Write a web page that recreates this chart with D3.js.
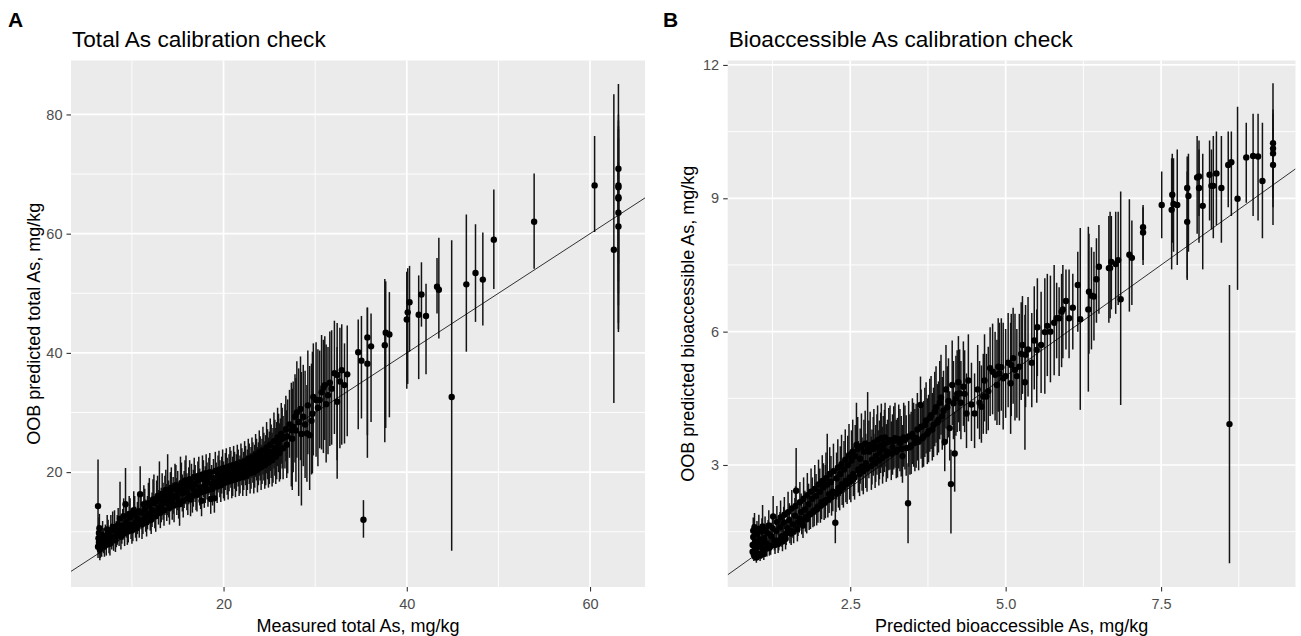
<!DOCTYPE html>
<html>
<head>
<meta charset="utf-8">
<script src="https://cdn.jsdelivr.net/npm/d3@7"></script>
<style>
  body { margin: 0; background: #fff; }
  svg { font-family: "Liberation Sans", Arial, sans-serif; display: block; }
  .tick text { fill: #4d4d4d; font-size: 14.5px; }
  .tick line { stroke: #333; stroke-width: 1.1; }
  .domain { display: none; }
</style>
</head>
<body>
<svg id="drawing_region"></svg>
<script>
// rows: [measured (x), OOB predicted (y), lower, upper]
const totalAsRows = [
  [6.3, 14.3, 7.5, 22.1], [6.3, 7.5, 5.6, 9.6], [6.35, 8.9, 6.8, 11.2], [6.4, 9.8, 7.6, 12.4],
  [6.4, 8.2, 6.2, 10.4], [6.45, 10.6, 8.2, 13.0], [6.5, 7.0, 5.2, 8.8], [6.55, 7.4, 5.6, 9.4],
  [6.6, 8.8, 6.8, 11.0], [6.7, 7.8, 5.8, 9.8], [6.8, 9.4, 7.2, 11.8], [6.9, 8.5, 6.4, 10.6],
  [7.0, 7.6, 5.8, 9.6], [7.1, 9.0, 7.0, 11.2], [7.2, 7.9, 6.0, 10.0], [7.3, 10.4, 8.0, 12.8],
  [7.4, 9.6, 7.4, 12.0], [7.5, 8.4, 6.4, 10.6], [7.6, 8.0, 6.0, 10.2], [7.7, 10.2, 7.8, 12.8],
  [7.8, 9.1, 7.0, 11.4], [7.9, 10.8, 8.4, 13.4], [8.0, 8.8, 6.8, 11.0], [8.1, 10.6, 8.2, 13.6],
  [8.2, 8.6, 6.6, 10.8], [8.3, 9.5, 7.4, 11.8], [8.4, 10.2, 7.8, 12.8], [8.5, 11.2, 8.8, 14.0],
  [8.6, 9.9, 7.6, 12.4], [8.7, 12.2, 9.0, 18.4], [8.8, 9.2, 7.0, 11.6], [8.9, 10.4, 8.0, 13.0],
  [9.0, 11.0, 8.6, 13.8], [9.1, 12.6, 9.8, 15.6], [9.2, 9.8, 7.6, 12.2], [9.3, 14.6, 9.5, 20.7],
  [9.4, 11.6, 9.0, 14.4], [9.5, 10.0, 7.8, 12.4], [9.6, 10.6, 8.2, 13.2], [9.7, 13.0, 10.2, 16.0],
  [9.8, 12.4, 9.6, 15.6], [9.9, 11.2, 8.8, 13.8], [10.0, 10.2, 8.0, 12.6], [10.1, 10.8, 8.4, 13.4],
  [10.2, 13.6, 10.6, 16.8], [10.3, 12.8, 10.0, 16.0], [10.4, 11.6, 9.0, 14.2], [10.5, 10.6, 8.4, 13.0],
  [10.6, 12.2, 9.6, 15.0], [10.7, 13.4, 10.6, 16.6], [10.8, 11.4, 9.0, 14.0], [10.9, 16.3, 12.4, 21.0],
  [11.0, 13.2, 10.4, 16.2], [11.1, 11.2, 8.8, 13.8], [11.2, 12.0, 9.6, 14.8], [11.3, 14.6, 11.6, 17.8],
  [11.4, 13.8, 11.0, 17.2], [11.5, 12.6, 10.0, 15.4], [11.6, 11.6, 9.2, 14.2], [11.7, 13.0, 10.4, 16.0],
  [11.8, 14.8, 11.8, 18.2], [11.9, 14.4, 11.4, 19.0], [12.0, 12.8, 10.2, 15.6], [12.1, 12.0, 9.6, 14.6],
  [12.2, 13.6, 10.8, 16.6], [12.3, 15.4, 12.4, 18.8], [12.4, 14.8, 11.8, 19.6], [12.5, 13.2, 10.6, 16.0],
  [12.6, 12.6, 10.0, 15.2], [12.7, 15.2, 12.2, 18.6], [12.8, 16.0, 12.8, 19.4], [12.9, 14.0, 11.2, 17.0],
  [13.0, 15.8, 12.6, 21.8], [13.1, 13.2, 10.6, 16.0], [13.2, 14.4, 11.6, 17.4], [13.3, 16.4, 13.2, 19.8],
  [13.4, 15.0, 12.0, 18.2], [13.5, 13.6, 11.0, 16.4], [13.6, 16.0, 12.8, 19.4], [13.7, 17.0, 13.8, 20.4],
  [13.8, 14.8, 11.8, 18.0], [13.9, 16.2, 12.8, 23.0], [14.0, 15.4, 12.4, 18.6], [14.1, 14.0, 11.2, 17.0],
  [14.2, 16.6, 13.4, 20.0], [14.3, 17.4, 14.2, 20.8], [14.4, 15.0, 12.0, 18.2], [14.5, 16.0, 13.0, 19.2],
  [14.6, 14.4, 11.6, 17.4], [14.7, 17.2, 14.0, 21.4], [14.8, 17.8, 14.6, 21.2], [14.9, 15.8, 12.8, 19.0],
  [15.0, 16.8, 13.6, 20.2], [15.1, 15.0, 12.2, 18.0], [15.2, 14.6, 11.0, 18.2], [15.3, 17.4, 14.2, 22.6],
  [15.4, 18.2, 15.0, 21.6], [15.5, 16.4, 13.4, 19.6], [15.6, 15.2, 12.4, 18.2], [15.7, 17.0, 14.0, 20.2],
  [15.8, 18.6, 15.4, 22.0], [15.9, 18.0, 14.6, 22.8], [16.0, 16.6, 13.6, 19.8], [16.1, 15.6, 12.8, 18.6],
  [16.2, 17.6, 14.6, 20.8], [16.3, 18.8, 15.6, 22.0], [16.4, 15.4, 12.6, 18.6], [16.5, 18.2, 15.2, 21.4],
  [16.6, 16.0, 13.2, 19.0], [16.7, 17.2, 14.2, 20.4], [16.8, 19.2, 16.0, 22.4], [16.9, 18.0, 15.0, 21.2],
  [17.0, 16.6, 13.6, 19.8], [17.1, 16.2, 13.4, 19.2], [17.2, 18.6, 15.6, 21.8], [17.3, 19.4, 16.4, 22.6],
  [17.4, 17.4, 14.4, 20.6], [17.5, 16.6, 13.8, 19.6], [17.6, 15.2, 12.6, 18.0], [17.7, 19.6, 16.6, 22.8],
  [17.8, 18.8, 15.8, 22.0], [17.9, 16.8, 14.0, 19.8], [18.0, 17.8, 14.8, 21.0], [18.1, 19.8, 16.8, 23.0],
  [18.2, 18.4, 15.4, 21.6], [18.3, 17.0, 14.2, 20.0], [18.4, 19.2, 16.2, 22.4], [18.5, 20.0, 17.0, 23.2],
  [18.6, 15.5, 13.0, 18.2], [18.7, 18.0, 15.0, 21.2], [18.8, 17.2, 14.4, 20.2], [18.9, 19.0, 16.0, 22.2],
  [19.0, 15.6, 13.2, 18.2], [19.1, 20.2, 17.2, 23.4], [19.2, 18.4, 15.4, 21.6], [19.3, 17.6, 14.8, 20.6],
  [19.4, 19.6, 16.6, 22.8], [19.5, 20.4, 17.4, 23.6], [19.6, 18.8, 15.8, 22.0], [19.7, 17.8, 15.0, 20.8],
  [19.8, 19.4, 16.4, 22.6], [19.9, 20.6, 17.6, 23.8], [20.0, 18.6, 15.6, 21.8], [20.1, 18.2, 15.2, 21.2],
  [20.2, 20.0, 17.0, 23.2], [20.3, 20.8, 17.8, 24.0], [20.4, 19.2, 16.2, 22.4], [20.5, 18.4, 15.4, 21.4],
  [20.6, 19.8, 16.8, 23.0], [20.7, 21.0, 18.0, 24.2], [20.8, 20.4, 17.4, 23.6], [20.9, 18.6, 15.6, 21.6],
  [21.0, 19.4, 16.0, 22.6], [21.1, 21.2, 18.2, 24.4], [21.2, 20.2, 17.2, 23.4], [21.3, 18.8, 15.8, 21.8],
  [21.4, 19.8, 16.8, 23.0], [21.5, 21.4, 18.4, 24.6], [21.6, 20.6, 17.6, 23.8], [21.7, 19.0, 16.0, 22.2],
  [21.8, 19.6, 16.4, 22.8], [21.9, 21.6, 18.6, 24.8], [22.0, 20.8, 17.8, 24.0], [22.1, 19.2, 16.0, 22.4],
  [22.2, 20.2, 17.0, 23.4], [22.3, 21.8, 18.6, 25.2], [22.4, 21.0, 17.8, 24.4], [22.5, 19.4, 16.0, 22.8],
  [22.6, 20.4, 17.0, 23.8], [22.7, 22.2, 18.8, 25.6], [22.8, 21.4, 18.0, 24.8], [22.9, 19.8, 16.4, 23.2],
  [23.0, 20.8, 17.2, 24.2], [23.1, 22.4, 19.0, 25.8], [23.2, 21.6, 18.2, 25.0], [23.3, 20.0, 16.4, 23.6],
  [23.4, 21.0, 17.4, 24.6], [23.5, 22.8, 19.2, 26.4], [23.6, 22.0, 18.6, 25.6], [23.7, 20.4, 16.6, 24.2],
  [23.8, 21.4, 17.8, 25.0], [23.9, 23.2, 19.4, 27.0], [24.0, 22.2, 18.6, 26.0], [24.1, 20.8, 17.0, 24.6],
  [24.2, 21.8, 18.0, 25.6], [24.3, 23.6, 19.6, 27.6], [24.4, 22.6, 18.6, 26.6], [24.5, 21.2, 17.2, 25.2],
  [24.6, 22.0, 17.8, 26.2], [24.7, 24.0, 19.8, 28.4], [24.8, 23.0, 18.8, 27.2], [24.9, 21.6, 17.4, 25.8],
  [25.0, 22.4, 18.0, 26.8], [25.1, 24.6, 20.2, 29.0], [25.2, 23.4, 19.0, 28.0], [25.3, 22.0, 17.6, 26.6],
  [25.4, 22.8, 18.2, 27.4], [25.5, 25.2, 20.6, 30.0], [25.6, 24.0, 19.4, 28.8], [25.7, 22.6, 18.0, 27.4],
  [25.8, 23.6, 18.8, 28.4], [25.9, 25.8, 21.0, 30.8], [26.0, 24.8, 20.0, 29.8], [26.1, 23.2, 18.4, 28.2],
  [26.2, 23.8, 18.8, 29.0], [26.3, 26.4, 21.4, 31.6], [26.4, 25.6, 20.6, 30.8], [26.5, 24.0, 18.8, 29.4],
  [26.7, 25.9, 20.6, 31.4], [26.8, 27.2, 21.8, 32.8], [26.9, 24.6, 19.0, 30.4], [27.0, 26.0, 19.8, 32.2],
  [27.2, 28.0, 22.4, 33.8], [27.4, 27.0, 17.6, 35.0], [27.5, 25.6, 17.0, 34.0], [27.6, 27.6, 20.0, 35.2],
  [27.8, 29.3, 21.6, 36.4], [27.9, 27.0, 18.4, 35.8], [28.0, 30.0, 22.4, 38.6], [28.2, 28.4, 16.0, 37.4],
  [28.4, 30.6, 22.0, 39.4], [28.5, 26.4, 14.4, 36.8], [28.7, 29.3, 21.0, 38.0], [28.9, 28.0, 19.0, 37.0],
  [29.1, 26.5, 18.4, 34.6], [29.2, 31.2, 23.0, 40.4], [29.4, 26.2, 17.0, 37.8], [29.6, 28.6, 19.6, 38.2],
  [29.7, 29.8, 19.8, 40.2], [29.8, 32.6, 22.8, 41.6], [30.1, 32.1, 22.6, 41.8], [30.3, 30.8, 21.0, 40.6],
  [30.5, 32.1, 24.0, 40.4], [30.7, 33.4, 23.8, 43.0], [30.9, 34.2, 23.2, 42.2], [31.05, 34.6, 25.4, 42.8],
  [31.2, 31.4, 21.6, 41.4], [31.4, 32.9, 23.0, 41.0], [31.6, 35.0, 24.4, 43.6], [31.8, 34.0, 24.6, 43.8],
  [32.1, 36.6, 26.4, 45.4], [32.4, 36.3, 18.9, 45.0], [32.4, 31.8, 22.0, 41.0], [32.7, 35.2, 24.0, 44.2],
  [32.9, 37.1, 24.6, 44.8], [33.2, 34.6, 24.8, 41.6], [33.5, 36.4, 26.0, 44.6], [34.7, 40.1, 27.2, 45.6],
  [35.05, 38.7, 29.0, 46.2], [35.27, 12.0, 9.0, 15.3], [35.7, 42.6, 26.2, 47.6], [35.7, 38.2, 22.4, 47.6],
  [36.1, 41.1, 28.4, 46.6], [37.6, 41.3, 25.0, 52.4], [37.7, 43.4, 27.4, 52.0], [38.1, 43.1, 29.2, 50.2],
  [40.0, 45.6, 34.0, 53.6], [40.1, 46.8, 34.8, 54.2], [40.3, 48.5, 40.2, 54.6], [41.3, 46.4, 35.6, 53.0],
  [41.6, 49.8, 44.4, 55.2], [42.1, 46.2, 36.4, 51.6], [43.3, 51.1, 46.6, 55.9], [43.5, 50.6, 42.4, 59.3],
  [44.9, 32.6, 6.8, 58.9], [46.5, 51.5, 40.2, 63.2], [47.5, 53.4, 45.2, 61.6], [48.3, 52.3, 44.6, 60.2],
  [49.5, 59.0, 50.7, 67.4], [53.9, 62.0, 54.1, 70.1], [60.5, 68.1, 60.3, 76.4], [62.6, 57.3, 31.6, 83.4],
  [63.1, 70.9, 43.5, 85.1], [63.1, 68.1, 55.0, 80.0], [63.1, 67.8, 52.0, 79.0], [63.1, 66.1, 48.0, 78.0],
  [63.1, 65.9, 50.0, 77.5], [63.1, 63.5, 45.0, 76.0], [63.1, 61.2, 44.0, 72.0]
];

// rows: [predicted bioaccessible (x), OOB predicted (y), lower, upper]
const bioAsRows = [
  [0.93, 1.05, 0.88, 1.26], [0.93, 1.20, 0.98, 1.44], [0.94, 1.38, 1.12, 1.66], [0.94, 1.52, 1.26, 1.82],
  [0.95, 0.98, 0.84, 1.16], [0.96, 1.60, 1.32, 1.92], [0.97, 1.28, 1.06, 1.54], [0.98, 1.12, 0.94, 1.34],
  [0.99, 0.92, 0.80, 1.10], [1.00, 1.44, 1.18, 1.74], [1.01, 1.22, 1.00, 1.48], [1.02, 1.00, 0.86, 1.20],
  [1.03, 1.56, 1.28, 1.88], [1.04, 1.32, 1.08, 1.60], [1.05, 0.96, 0.84, 1.14], [1.06, 1.18, 0.98, 1.42],
  [1.07, 1.26, 1.04, 1.52], [1.08, 1.50, 1.24, 1.80], [1.09, 1.62, 1.34, 2.10], [1.10, 1.08, 0.92, 1.30],
  [1.11, 1.00, 0.86, 1.20], [1.12, 1.36, 1.12, 1.64], [1.13, 1.54, 1.28, 1.84], [1.15, 1.24, 1.02, 1.50],
  [1.16, 1.12, 0.94, 1.36], [1.18, 1.46, 1.20, 1.76], [1.19, 1.64, 1.36, 1.98], [1.20, 1.14, 0.96, 1.38],
  [1.22, 1.18, 0.98, 1.42], [1.23, 1.40, 1.16, 1.70], [1.25, 1.58, 1.30, 1.90], [1.26, 1.84, 1.50, 2.30],
  [1.28, 1.30, 1.08, 1.58], [1.29, 1.20, 1.00, 1.46], [1.31, 1.52, 1.26, 1.84], [1.32, 1.72, 1.42, 2.08],
  [1.34, 1.22, 1.02, 1.48], [1.35, 1.30, 1.08, 1.58], [1.37, 1.60, 1.32, 1.94], [1.38, 1.82, 1.50, 2.20],
  [1.40, 1.40, 1.16, 1.70], [1.41, 1.28, 1.06, 1.56], [1.43, 1.70, 1.40, 2.06], [1.44, 1.88, 1.56, 2.28],
  [1.46, 1.34, 1.10, 1.62], [1.47, 1.46, 1.20, 1.78], [1.49, 1.58, 1.30, 1.92], [1.50, 1.94, 1.60, 2.40],
  [1.52, 1.76, 1.46, 2.14], [1.53, 1.52, 1.24, 1.84], [1.55, 1.46, 1.20, 1.78], [1.56, 2.02, 1.66, 2.44],
  [1.58, 1.66, 1.36, 2.02], [1.59, 1.50, 1.24, 1.82], [1.61, 1.86, 1.54, 2.26], [1.62, 2.08, 1.72, 2.52],
  [1.63, 2.42, 1.90, 3.38], [1.65, 1.56, 1.28, 1.90], [1.66, 1.70, 1.40, 2.06], [1.68, 1.80, 1.48, 2.18],
  [1.69, 2.16, 1.78, 2.62], [1.71, 1.94, 1.60, 2.36], [1.72, 1.74, 1.44, 2.10], [1.74, 1.64, 1.36, 2.00],
  [1.75, 2.24, 1.84, 2.72], [1.77, 2.00, 1.64, 2.42], [1.78, 1.82, 1.50, 2.20], [1.80, 1.78, 1.46, 2.16],
  [1.81, 2.32, 1.90, 2.82], [1.83, 2.12, 1.74, 2.58], [1.84, 1.88, 1.54, 2.28], [1.86, 1.90, 1.56, 2.30],
  [1.87, 2.40, 1.96, 2.92], [1.89, 2.24, 1.84, 2.72], [1.90, 1.94, 1.60, 2.36], [1.92, 1.98, 1.62, 2.40],
  [1.93, 2.46, 2.02, 3.00], [1.95, 2.30, 1.88, 2.80], [1.96, 2.00, 1.64, 2.42], [1.98, 2.06, 1.70, 2.50],
  [1.99, 2.56, 2.10, 3.12], [2.01, 2.40, 1.96, 2.92], [2.02, 2.08, 1.70, 2.52], [2.04, 2.16, 1.78, 2.62],
  [2.05, 2.64, 2.16, 3.22], [2.07, 2.50, 2.04, 3.04], [2.08, 2.14, 1.76, 2.60], [2.10, 2.20, 1.80, 3.00],
  [2.11, 2.70, 2.22, 3.28], [2.13, 2.56, 2.10, 3.70], [2.14, 2.22, 1.82, 2.70], [2.16, 2.34, 1.92, 2.84],
  [2.17, 2.80, 2.30, 3.40], [2.19, 2.62, 2.14, 3.20], [2.20, 2.28, 1.86, 2.78], [2.22, 2.40, 1.96, 2.92],
  [2.23, 2.86, 2.34, 3.48], [2.26, 1.70, 1.24, 2.36], [2.27, 2.36, 1.94, 2.86], [2.28, 2.70, 2.22, 3.28],
  [2.30, 2.94, 2.40, 3.58], [2.31, 2.48, 2.04, 3.02], [2.33, 2.42, 1.98, 2.94], [2.34, 2.80, 2.30, 3.42],
  [2.36, 3.02, 2.48, 3.68], [2.37, 2.56, 2.10, 3.12], [2.39, 2.50, 2.04, 3.04], [2.40, 2.90, 2.38, 3.54],
  [2.42, 3.12, 2.56, 3.80], [2.43, 2.64, 2.16, 3.22], [2.45, 2.58, 2.12, 3.14], [2.46, 3.00, 2.46, 3.66],
  [2.48, 3.22, 2.64, 3.92], [2.49, 2.72, 2.22, 3.32], [2.51, 2.64, 2.16, 3.22], [2.52, 3.10, 2.54, 3.78],
  [2.54, 3.30, 2.70, 4.02], [2.55, 2.80, 2.30, 3.42], [2.57, 2.72, 2.22, 3.32], [2.58, 3.20, 2.62, 3.90],
  [2.60, 3.45, 2.82, 4.40], [2.62, 3.36, 2.76, 4.08], [2.63, 2.90, 2.38, 3.54], [2.65, 2.80, 2.30, 3.42],
  [2.66, 3.14, 2.58, 3.82], [2.68, 3.42, 2.80, 4.16], [2.69, 2.96, 2.42, 3.62], [2.71, 2.86, 2.34, 3.50],
  [2.72, 3.30, 2.70, 4.02], [2.74, 3.48, 2.84, 4.22], [2.75, 3.04, 2.48, 3.70], [2.77, 2.92, 2.40, 3.56],
  [2.78, 3.40, 2.78, 4.64], [2.80, 3.30, 2.70, 4.00], [2.82, 3.45, 2.82, 4.20], [2.84, 2.98, 2.44, 3.64],
  [2.85, 3.12, 2.56, 3.80], [2.87, 3.36, 2.76, 4.08], [2.88, 3.50, 2.86, 4.26], [2.90, 3.04, 2.48, 3.70],
  [2.91, 3.20, 2.62, 3.90], [2.93, 3.40, 2.78, 4.14], [2.94, 3.56, 2.92, 4.34], [2.96, 3.10, 2.54, 3.78],
  [2.97, 3.28, 2.68, 4.00], [2.99, 3.44, 2.82, 4.18], [3.00, 3.60, 2.94, 4.38], [3.02, 3.16, 2.58, 3.86],
  [3.03, 3.36, 2.74, 4.10], [3.05, 3.48, 2.84, 4.24], [3.06, 3.62, 2.96, 4.40], [3.08, 3.22, 2.62, 3.92],
  [3.10, 3.30, 2.70, 4.02], [3.12, 3.52, 2.88, 4.28], [3.14, 3.56, 2.90, 4.34], [3.16, 3.26, 2.66, 3.98],
  [3.18, 3.40, 2.78, 4.14], [3.20, 3.54, 2.90, 4.32], [3.22, 3.60, 2.94, 4.40], [3.24, 3.30, 2.70, 4.02],
  [3.26, 3.34, 2.72, 4.06], [3.28, 3.58, 2.92, 4.36], [3.30, 3.50, 2.86, 4.26], [3.32, 3.36, 2.74, 4.10],
  [3.34, 3.20, 2.60, 3.90], [3.36, 3.62, 2.96, 4.40], [3.38, 3.56, 2.90, 4.34], [3.40, 3.38, 2.76, 4.12],
  [3.43, 2.14, 1.24, 3.04], [3.44, 3.64, 2.96, 4.44], [3.46, 3.40, 2.78, 4.14], [3.48, 3.44, 2.80, 4.20],
  [3.50, 3.70, 3.02, 4.50], [3.52, 3.62, 2.96, 4.40], [3.54, 3.50, 2.86, 4.26], [3.56, 3.60, 2.94, 4.38],
  [3.58, 3.80, 3.10, 4.62], [3.60, 3.52, 2.88, 4.28], [3.63, 4.35, 3.56, 4.99], [3.64, 3.86, 3.14, 4.70],
  [3.66, 3.60, 2.94, 4.38], [3.68, 3.64, 2.96, 4.44], [3.70, 3.90, 3.18, 4.74], [3.72, 4.00, 3.26, 4.86],
  [3.74, 3.70, 3.02, 4.50], [3.76, 3.76, 3.06, 4.58], [3.78, 4.06, 3.30, 4.94], [3.80, 4.12, 3.36, 5.00],
  [3.82, 3.80, 3.10, 4.62], [3.84, 3.90, 3.18, 4.74], [3.86, 4.20, 3.42, 5.10], [3.88, 4.30, 3.50, 5.22],
  [3.90, 3.96, 3.22, 4.82], [3.92, 4.02, 3.28, 4.88], [3.94, 4.40, 3.58, 5.34], [3.96, 4.52, 3.68, 5.48],
  [3.98, 4.10, 3.34, 4.98], [4.00, 4.22, 3.44, 5.12], [4.02, 3.52, 2.86, 4.30], [4.04, 4.70, 3.82, 5.70],
  [4.06, 4.30, 3.50, 5.22], [4.08, 4.44, 3.62, 5.40], [4.10, 3.83, 3.10, 4.66], [4.12, 2.57, 1.46, 3.34],
  [4.14, 4.80, 3.90, 5.80], [4.16, 4.39, 3.58, 5.34], [4.18, 3.26, 2.40, 4.20], [4.20, 4.50, 3.66, 5.46],
  [4.22, 4.60, 3.74, 5.58], [4.24, 4.86, 3.96, 5.90], [4.26, 4.61, 3.76, 5.60], [4.28, 4.40, 3.58, 5.34],
  [4.32, 4.76, 3.88, 5.78], [4.34, 4.60, 3.74, 5.58], [4.37, 4.16, 3.38, 5.06], [4.40, 4.90, 3.98, 5.94],
  [4.45, 4.36, 3.54, 5.30], [4.50, 4.16, 3.38, 5.06], [4.55, 4.70, 3.82, 5.70], [4.58, 4.40, 3.58, 5.34],
  [4.61, 4.31, 3.50, 5.24], [4.64, 4.54, 3.70, 5.50], [4.66, 4.90, 3.98, 5.94], [4.69, 4.54, 3.70, 5.50],
  [4.72, 4.66, 3.78, 5.66], [4.75, 5.18, 4.10, 6.10], [4.79, 5.10, 4.14, 6.18], [4.83, 5.03, 4.00, 6.00],
  [4.86, 4.80, 3.90, 5.82], [4.88, 5.21, 4.20, 6.30], [4.90, 5.06, 3.90, 6.20], [4.93, 5.20, 4.22, 6.30],
  [4.96, 4.95, 3.80, 6.20], [5.00, 5.00, 4.06, 6.06], [5.04, 5.30, 4.30, 6.42], [5.08, 4.84, 3.70, 6.20],
  [5.09, 5.25, 4.10, 6.40], [5.12, 5.40, 4.38, 6.54], [5.15, 5.14, 4.00, 6.40], [5.18, 5.00, 4.06, 6.06],
  [5.22, 5.21, 4.00, 6.40], [5.25, 5.50, 4.46, 6.66], [5.27, 5.70, 4.60, 6.80], [5.31, 4.86, 3.34, 6.38],
  [5.32, 5.48, 4.30, 6.60], [5.36, 5.60, 4.54, 6.78], [5.42, 5.30, 4.30, 6.42], [5.46, 5.80, 4.70, 7.02],
  [5.50, 5.59, 4.40, 6.50], [5.51, 6.10, 5.00, 7.20], [5.57, 5.70, 4.62, 6.90], [5.63, 5.99, 4.60, 7.20],
  [5.67, 6.13, 5.00, 7.30], [5.72, 6.00, 4.86, 7.26], [5.78, 6.20, 5.02, 7.50], [5.82, 6.30, 5.40, 7.10],
  [5.86, 6.30, 5.00, 7.00], [5.90, 6.45, 5.20, 7.30], [5.92, 6.50, 5.40, 7.50], [5.97, 6.69, 5.60, 7.40],
  [6.02, 6.30, 5.40, 7.40], [6.08, 6.54, 5.60, 7.30], [6.16, 7.05, 6.00, 7.80], [6.20, 6.28, 4.24, 8.33],
  [6.33, 6.50, 4.65, 8.36], [6.34, 6.90, 5.50, 8.20], [6.38, 6.81, 5.60, 7.90], [6.42, 6.79, 5.80, 7.80],
  [6.46, 7.18, 6.20, 8.10], [6.50, 7.46, 6.40, 8.40], [6.66, 7.43, 6.20, 8.60], [6.68, 7.43, 6.30, 8.70],
  [6.70, 7.57, 6.50, 8.60], [6.77, 7.52, 6.40, 8.70], [6.81, 7.61, 6.60, 8.70], [6.85, 6.73, 4.35, 9.15],
  [6.99, 7.73, 6.45, 8.98], [7.03, 7.66, 6.60, 8.50], [7.21, 8.35, 7.61, 8.85], [7.21, 8.23, 7.50, 8.80],
  [7.51, 8.85, 8.10, 9.60], [7.67, 8.74, 7.40, 9.90], [7.68, 9.08, 8.00, 10.00], [7.70, 8.87, 7.80, 9.90],
  [7.76, 8.85, 7.50, 10.10], [7.92, 9.23, 7.16, 9.94], [7.94, 9.05, 7.80, 10.00], [7.92, 8.47, 7.20, 9.60],
  [8.08, 9.47, 8.20, 10.40], [8.11, 9.49, 8.60, 10.10], [8.11, 9.23, 8.00, 10.30], [8.17, 8.83, 7.40, 10.00],
  [8.28, 9.53, 8.50, 10.30], [8.31, 9.28, 8.30, 10.10], [8.34, 9.28, 8.10, 10.40], [8.39, 9.56, 8.40, 10.50],
  [8.47, 9.23, 8.00, 10.40], [8.58, 9.75, 8.80, 10.50], [8.63, 9.81, 8.60, 10.50], [8.60, 3.92, 0.79, 7.05],
  [8.73, 8.99, 6.94, 11.06], [8.87, 9.92, 8.90, 10.70], [8.98, 9.95, 8.60, 10.90], [9.06, 9.94, 8.50, 10.90],
  [9.13, 9.39, 8.10, 10.70], [9.30, 10.24, 8.40, 11.59], [9.30, 10.12, 9.00, 11.00], [9.30, 10.01, 9.20, 10.90],
  [9.30, 9.75, 8.80, 10.60]
];

const totalTicksX = [20, 40, 60];
const totalMinorX = [10, 30, 50];
const totalTicksY = [20, 40, 60, 80];
const totalMinorY = [10, 30, 50, 70];
const bioTicksX = [2.5, 5.0, 7.5];
const bioMinorX = [1.25, 3.75, 6.25, 8.75];
const bioTicksY = [3, 6, 9, 12];
const bioMinorY = [1.5, 4.5, 7.5, 10.5];

const svg = d3.select('#drawing_region')
    .attr('width', 1301)
    .attr('height', 636);

function drawPanel(p) {
    var xScale = d3.scaleLinear().domain(p.xDomain).range([p.left, p.right]);
    var yScale = d3.scaleLinear().domain(p.yDomain).range([p.bottom, p.top]);

    svg.append('clipPath').attr('id', 'clip-' + p.tag)
        .append('rect')
        .attr('x', p.left).attr('y', p.top)
        .attr('width', p.right - p.left).attr('height', p.bottom - p.top);

    var g = svg.append('g');

    g.append('rect')
        .attr('x', p.left).attr('y', p.top)
        .attr('width', p.right - p.left).attr('height', p.bottom - p.top)
        .attr('fill', '#ebebeb');

    // grid: minor first, then major
    g.selectAll('.minx').data(p.minorX).enter().append('line')
        .attr('x1', d => xScale(d)).attr('x2', d => xScale(d))
        .attr('y1', p.top).attr('y2', p.bottom)
        .attr('stroke', '#fff').attr('stroke-width', 0.9);
    g.selectAll('.miny').data(p.minorY).enter().append('line')
        .attr('y1', d => yScale(d)).attr('y2', d => yScale(d))
        .attr('x1', p.left).attr('x2', p.right)
        .attr('stroke', '#fff').attr('stroke-width', 0.9);
    g.selectAll('.majx').data(p.ticksX).enter().append('line')
        .attr('x1', d => xScale(d)).attr('x2', d => xScale(d))
        .attr('y1', p.top).attr('y2', p.bottom)
        .attr('stroke', '#fff').attr('stroke-width', 1.7);
    g.selectAll('.majy').data(p.ticksY).enter().append('line')
        .attr('y1', d => yScale(d)).attr('y2', d => yScale(d))
        .attr('x1', p.left).attr('x2', p.right)
        .attr('stroke', '#fff').attr('stroke-width', 1.7);

    var marks = g.append('g').attr('clip-path', 'url(#clip-' + p.tag + ')');

    marks.selectAll('.bar').data(p.rows).enter().append('line')
        .attr('x1', d => xScale(d[0])).attr('x2', d => xScale(d[0]))
        .attr('y1', d => yScale(d[2])).attr('y2', d => yScale(d[3]))
        .attr('stroke', '#141414').attr('stroke-width', 1.5);

    marks.selectAll('circle').data(p.rows).enter().append('circle')
        .attr('cx', d => xScale(d[0]))
        .attr('cy', d => yScale(d[1]))
        .attr('r', 3.2)
        .attr('fill', '#000');

    // 1:1 reference line
    marks.append('line')
        .attr('x1', xScale(p.xDomain[0])).attr('y1', yScale(p.xDomain[0]))
        .attr('x2', xScale(p.xDomain[1])).attr('y2', yScale(p.xDomain[1]))
        .attr('stroke', '#000').attr('stroke-width', 0.8);

    g.append('g')
        .attr('transform', 'translate(0,' + p.bottom + ')')
        .call(d3.axisBottom(xScale).tickValues(p.ticksX).tickSize(4.5).tickPadding(7).tickFormat(p.xFormat));

    g.append('g')
        .attr('transform', 'translate(' + p.left + ',0)')
        .call(d3.axisLeft(yScale).tickValues(p.ticksY).tickSize(4.5).tickPadding(4).tickFormat(d3.format('d')));

    g.append('text')
        .attr('x', p.labelX).attr('y', 26.5)
        .style('font-size', '21px').style('font-weight', 'bold')
        .text(p.tag);

    g.append('text')
        .attr('x', p.left + 1).attr('y', 46.5)
        .style('font-size', '22.6px')
        .text(p.title);

    g.append('text')
        .attr('x', (p.left + p.right) / 2).attr('y', 631.5)
        .style('text-anchor', 'middle').style('font-size', '18px')
        .text(p.xLabel);

    g.append('text')
        .attr('transform', 'translate(' + p.yLabelX + ',' + (p.top + p.bottom) / 2 + ') rotate(-90)')
        .style('text-anchor', 'middle').style('font-size', '18px')
        .text(p.yLabel);
}

drawPanel({
    tag: 'A', labelX: 8, rows: totalAsRows,
    left: 71, right: 645, top: 60.5, bottom: 587,
    xDomain: [3.35, 66.0], yDomain: [0.73, 89.05],
    ticksX: totalTicksX, minorX: totalMinorX, ticksY: totalTicksY, minorY: totalMinorY,
    xFormat: d3.format('d'),
    title: 'Total As calibration check',
    xLabel: 'Measured total As, mg/kg',
    yLabel: 'OOB predicted total As, mg/kg', yLabelX: 40
});

drawPanel({
    tag: 'B', labelX: 663, rows: bioAsRows,
    left: 727.7, right: 1295.5, top: 60.5, bottom: 587,
    xDomain: [0.529, 9.662], yDomain: [0.255, 12.10],
    ticksX: bioTicksX, minorX: bioMinorX, ticksY: bioTicksY, minorY: bioMinorY,
    xFormat: d3.format('.1f'),
    title: 'Bioaccessible As calibration check',
    xLabel: 'Predicted bioaccessible As, mg/kg',
    yLabel: 'OOB predicted bioaccessible As, mg/kg', yLabelX: 693.5
});
</script>
</body>
</html>
